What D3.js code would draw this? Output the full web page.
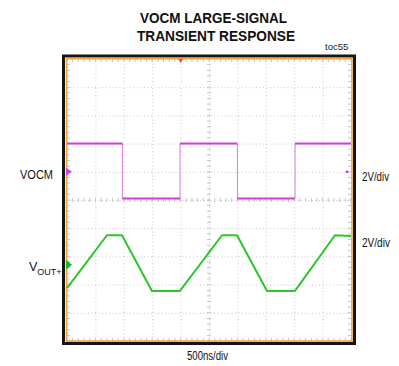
<!DOCTYPE html>
<html>
<head>
<meta charset="utf-8">
<script src="https://cdn.jsdelivr.net/npm/d3@7"></script>
<style>
html,body{margin:0;padding:0;background:#fff;}
svg{display:block;font-family:"Liberation Sans",Arial,sans-serif;}
</style>
</head>
<body>
<svg id="chart" width="399" height="366"></svg>
<script>
// ---- data (time in ns, values in volts) ----
const titleLines = ["VOCM LARGE-SIGNAL", "TRANSIENT RESPONSE"];
const figureId = "toc55";
const xDivLabel = "500ns/div";
const channelNames = ["VOCM", "VOUT+"];
const channelScaleLabels = ["2V/div", "2V/div"];
const xTicksNs = [0, 500, 1000, 1500, 2000, 2500, 3000, 3500, 4000, 4500, 5000];
const yTicksDiv = [-5, -4, -3, -2, -1, 0, 1, 2, 3, 4, 5];

const vocmTime  = [0, 975, 975, 1990, 1990, 3000, 3000, 4015, 4015, 5000];
const vocmVolts = [2.0, 2.0, -1.9, -1.9, 2.0, 2.0, -1.9, -1.9, 2.0, 2.0];

const voutTime  = [0, 704, 968, 1496, 1989, 2729, 2993, 3521, 4014, 4718, 5000];
const voutVolts = [-1.65, 2.1, 2.1, -1.85, -1.85, 2.1, 2.1, -1.85, -1.85, 2.1, 2.05];

const triggerTimeNs = 2000;

// ---- layout ----
const svg = d3.select("#chart");
const L = 67, R = 351, T = 59, B = 341;
const x = d3.scaleLinear().domain([0, 5000]).range([L, R]);
const yDiv = d3.scaleLinear().domain([-5, 5]).range([B, T]);
const voltsPerDiv = 2;
const vocmOffset = 1.0, voutOffset = -2.3;
const yVocm = v => yDiv(vocmOffset + v / voltsPerDiv);
const yVout = v => yDiv(voutOffset + v / voltsPerDiv);

// title
svg.append("text").attr("x", 213.5).attr("y", 23).attr("text-anchor", "middle")
  .attr("font-weight", "bold").attr("font-size", 15.5).attr("fill", "#111")
  .attr("textLength", 147).attr("lengthAdjust", "spacingAndGlyphs").text(titleLines[0]);
svg.append("text").attr("x", 216).attr("y", 40.5).attr("text-anchor", "middle")
  .attr("font-weight", "bold").attr("font-size", 15.5).attr("fill", "#111")
  .attr("textLength", 158).attr("lengthAdjust", "spacingAndGlyphs").text(titleLines[1]);
svg.append("text").attr("x", 325).attr("y", 49.5).attr("font-size", 9.5).attr("fill", "#222")
  .text(figureId);

// frame
svg.append("rect").attr("x", 63.5).attr("y", 56).attr("width", 291).attr("height", 287.5)
  .attr("fill", "#fff").attr("stroke", "#151515").attr("stroke-width", 3);

// grid (via axes)
const gx = svg.append("g").attr("transform", `translate(0,${B})`)
  .call(d3.axisBottom(x).tickValues(xTicksNs).tickSize(-(B - T)).tickFormat(""));
const gy = svg.append("g").attr("transform", `translate(${L},0)`)
  .call(d3.axisLeft(yDiv).tickValues(yTicksDiv).tickSize(-(R - L)).tickFormat(""));
[gx, gy].forEach(g => {
  g.select(".domain").remove();
  g.selectAll(".tick line").attr("stroke", "#c9c9c9").attr("stroke-width", 1)
    .attr("stroke-dasharray", "1,2.5");
});

// minor ticks along edges and centre lines
const minorX = d3.range(0, 5001, 100);
const minorY = d3.range(-5, 5.001, 0.2);
const mt = svg.append("g").attr("stroke", "#c4c4c4").attr("stroke-width", 1);
[T, B].forEach((yy, i) => {
  mt.selectAll(null).data(minorX).enter().append("line")
    .attr("x1", d => x(d)).attr("x2", d => x(d))
    .attr("y1", i ? yy - 3 : yy).attr("y2", i ? yy : yy + 3);
});
mt.selectAll(null).data(minorX).enter().append("line")
  .attr("x1", d => x(d)).attr("x2", d => x(d))
  .attr("y1", yDiv(0) - 2).attr("y2", yDiv(0) + 2);
[L, R].forEach((xx, i) => {
  mt.selectAll(null).data(minorY).enter().append("line")
    .attr("y1", d => yDiv(d)).attr("y2", d => yDiv(d))
    .attr("x1", i ? xx - 3 : xx).attr("x2", i ? xx : xx + 3);
});
mt.selectAll(null).data(minorY).enter().append("line")
  .attr("y1", d => yDiv(d)).attr("y2", d => yDiv(d))
  .attr("x1", x(2500) - 2).attr("x2", x(2500) + 2);

// orange inner border
svg.append("rect").attr("x", 66.5).attr("y", 58.5).attr("width", 285.5).attr("height", 282.5)
  .attr("fill", "none").attr("stroke", "#f2a440").attr("stroke-width", 1.6);

// traces
const vocmPts = vocmTime.map((t, i) => [x(t), yVocm(vocmVolts[i])]);
const voutPts = voutTime.map((t, i) => [x(t), yVout(voutVolts[i])]);
const line = d3.line();

svg.append("path").attr("d", line(vocmPts)).attr("fill", "none")
  .attr("stroke", "#dc7adc").attr("stroke-width", 1);
// flat levels drawn thicker
for (let i = 0; i < vocmPts.length - 1; i++) {
  if (vocmTime[i] !== vocmTime[i + 1]) {
    svg.append("path").attr("d", line([vocmPts[i], vocmPts[i + 1]])).attr("fill", "none")
      .attr("stroke", "#d23ed2").attr("stroke-width", 2);
  }
}
svg.append("path").attr("d", line(voutPts)).attr("fill", "none")
  .attr("stroke", "#2cc52c").attr("stroke-width", 2).attr("stroke-linejoin", "round");

// channel markers
const vocmMarkY = yDiv(vocmOffset), voutMarkY = yDiv(voutOffset);
svg.append("path").attr("d", `M66,${vocmMarkY - 4}L72,${vocmMarkY}L66,${vocmMarkY + 4}Z`)
  .attr("fill", "#d63ed6");
svg.append("path").attr("d", `M66,${voutMarkY - 5}L72,${voutMarkY}L66,${voutMarkY + 5}Z`)
  .attr("fill", "#22b422");
svg.append("circle").attr("cx", 347).attr("cy", vocmMarkY).attr("r", 1.3).attr("fill", "#d63ed6");
svg.append("line").attr("x1", 345).attr("x2", 349).attr("y1", vocmMarkY).attr("y2", vocmMarkY)
  .attr("stroke", "#d63ed6").attr("stroke-width", 0.8);
const tx = x(triggerTimeNs);
svg.append("path").attr("d", `M${tx - 2.5},${T}L${tx + 2.5},${T}L${tx},${T + 4}Z`).attr("fill", "#e8503a");

// labels
svg.append("text").attr("x", 20).attr("y", 179).attr("font-size", 12.5).attr("fill", "#111")
  .attr("textLength", 33).attr("lengthAdjust", "spacingAndGlyphs").text(channelNames[0]);
const vt = svg.append("text").attr("x", 29).attr("y", 271).attr("font-size", 12.5).attr("fill", "#111");
vt.append("tspan").text(channelNames[1].charAt(0));
vt.append("tspan").attr("font-size", 9).attr("dy", 4).text(channelNames[1].slice(1));

svg.append("text").attr("x", 362).attr("y", 180.5).attr("font-size", 12.5).attr("fill", "#111")
  .attr("textLength", 27).attr("lengthAdjust", "spacingAndGlyphs").text(channelScaleLabels[0]);
svg.append("text").attr("x", 362).attr("y", 246.5).attr("font-size", 12.5).attr("fill", "#111")
  .attr("textLength", 28).attr("lengthAdjust", "spacingAndGlyphs").text(channelScaleLabels[1]);
svg.append("text").attr("x", 187).attr("y", 359.5).attr("font-size", 12.5).attr("fill", "#111")
  .attr("textLength", 41).attr("lengthAdjust", "spacingAndGlyphs").text(xDivLabel);
</script>
</body>
</html>
